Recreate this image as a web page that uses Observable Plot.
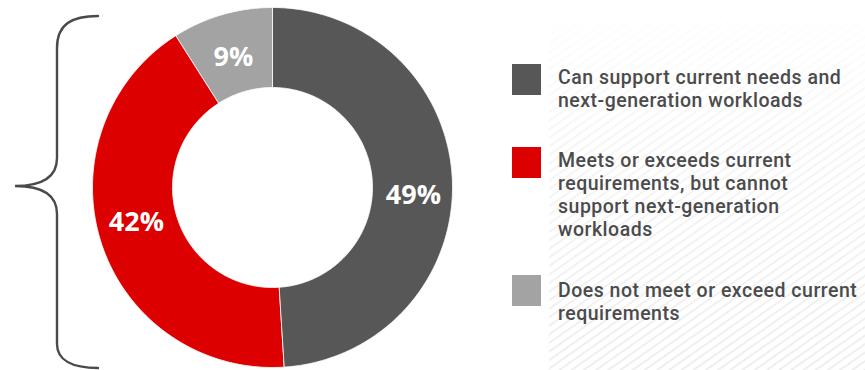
<!DOCTYPE html>
<html>
<head>
<meta charset="utf-8">
<script src="https://cdn.jsdelivr.net/npm/d3@7"></script>
<script src="https://cdn.jsdelivr.net/npm/@observablehq/plot@0.6"></script>
<style>
  html, body { margin: 0; padding: 0; background: #ffffff; }
  #wrap { position: relative; width: 865px; height: 370px; overflow: hidden; font-family: "Open Sans", sans-serif; }
  #chart svg { display: block; }
  .legend-item { position: absolute; left: 512px; }
  .legend-item .sw { position: absolute; left: 0; width: 29px; height: 31px; }
  .legend-item .tx { position: absolute; left: 46px; white-space: nowrap; font-family: Roboto, sans-serif; font-size: 19.5px; line-height: 23px; font-weight: 500; color: #4b4b4b; letter-spacing: 0.5px; }
</style>
</head>
<body>
<div id="wrap">
  <div id="chart"></div>
  <div id="legend"></div>
</div>
<script>
// ---- data ----
const categories = [
  "Can support current needs and next-generation workloads",
  "Meets or exceeds current requirements, but cannot support next-generation workloads",
  "Does not meet or exceed current requirements"
];
const values = [49, 42, 9];
const colors = ["#575757", "#dc0000", "#a3a3a3"];
const legendLines = [
  ["Can support current needs and", "next-generation workloads"],
  ["Meets or exceeds current", "requirements, but cannot", "support next-generation", "workloads"],
  ["Does not meet or exceed current", "requirements"]
];

// ---- layout constants ----
const W = 865, H = 370;
const cx = 272, cy = 187;
const outerR = 180, innerR = 100;
const labelR = 140;
const labelNudge = [[1, -12], [-3, 8], [0, -4]];
const legendTops = [64, 147, 275];
const legendTextTops = [66, 149, 279];

// ---- pie geometry from data ----
const pie = d3.pie().sort(null).value(d => d.value);
const slices = pie(categories.map((c, i) => ({category: c, value: values[i]})));

const pts = [];
slices.forEach(s => {
  const n = Math.max(8, Math.ceil((s.endAngle - s.startAngle) * 80));
  for (let k = 0; k <= n; k++) {
    const a = s.startAngle + (s.endAngle - s.startAngle) * k / n;
    pts.push({category: s.data.category, x: outerR * Math.sin(a), y: outerR * Math.cos(a)});
  }
  for (let k = n; k >= 0; k--) {
    const a = s.startAngle + (s.endAngle - s.startAngle) * k / n;
    pts.push({category: s.data.category, x: innerR * Math.sin(a), y: innerR * Math.cos(a)});
  }
});

const labels = slices.map((s, i) => {
  const a = (s.startAngle + s.endAngle) / 2;
  return {
    x: labelR * Math.sin(a) + labelNudge[i][0],
    y: labelR * Math.cos(a) + labelNudge[i][1],
    text: `${s.data.value}%`
  };
});

const chart = Plot.plot({
  width: W,
  height: H,
  margin: 0,
  x: {domain: [-cx, W - cx], range: [0, W], axis: null},
  y: {domain: [-(H - cy), cy], range: [H, 0], axis: null},
  color: {domain: categories, range: colors},
  style: {background: "transparent", overflow: "visible"},
  marks: [
    Plot.line(pts, {x: "x", y: "y", z: "category", fill: "category", stroke: "#ffffff", strokeWidth: 0.8, curve: "linear-closed"}),
    Plot.text(labels, {x: "x", y: "y", text: "text", fill: "#ffffff", fontSize: 27, fontWeight: 700, fontFamily: "Open Sans, sans-serif", textAnchor: "middle", lineAnchor: "middle"})
  ]
});
document.getElementById("chart").appendChild(chart);

// ---- decorations: faint stripes and brace ----
const svg = d3.select(chart);
const defs = svg.insert("defs", ":first-child");
const pat = defs.append("pattern").attr("id", "stripes").attr("patternUnits", "userSpaceOnUse")
  .attr("width", 7).attr("height", 7).attr("patternTransform", "rotate(-35)");
pat.append("rect").attr("x", 0).attr("y", 0).attr("width", 7).attr("height", 1.8).attr("fill", "#ededed");
const grad = defs.append("linearGradient").attr("id", "fade").attr("x1", 0).attr("y1", 0).attr("x2", 0).attr("y2", 1);
grad.append("stop").attr("offset", "0").attr("stop-color", "#fff").attr("stop-opacity", 0);
grad.append("stop").attr("offset", "0.35").attr("stop-color", "#fff").attr("stop-opacity", 0.55);
grad.append("stop").attr("offset", "1").attr("stop-color", "#fff").attr("stop-opacity", 1);
const mask = defs.append("mask").attr("id", "fadeMask");
mask.append("rect").attr("x", 549).attr("y", 0).attr("width", W - 549).attr("height", H).attr("fill", "url(#fade)");
svg.insert("rect", "defs + *").attr("x", 549).attr("y", 0).attr("width", W - 549).attr("height", H)
  .attr("fill", "url(#stripes)").attr("mask", "url(#fadeMask)");

svg.append("path")
  .attr("d", "M98,16 C72,16 57,24 57,48 L57,158 C57,176 44,186 15,186 C44,186 57,196 57,214 L57,344 C57,360 72,368 98,368")
  .attr("fill", "none").attr("stroke", "#4a4a4a").attr("stroke-width", 2.4).attr("stroke-linecap", "round");

// ---- legend ----
const legend = document.getElementById("legend");
categories.forEach((c, i) => {
  const item = document.createElement("div");
  item.className = "legend-item";
  item.style.top = "0px";
  const sw = document.createElement("div");
  sw.className = "sw";
  sw.style.background = colors[i];
  sw.style.top = legendTops[i] + "px";
  const tx = document.createElement("div");
  tx.className = "tx";
  tx.style.top = legendTextTops[i] + "px";
  tx.innerHTML = legendLines[i].join("<br>");
  item.appendChild(sw);
  item.appendChild(tx);
  legend.appendChild(item);
});
</script>
</body>
</html>
